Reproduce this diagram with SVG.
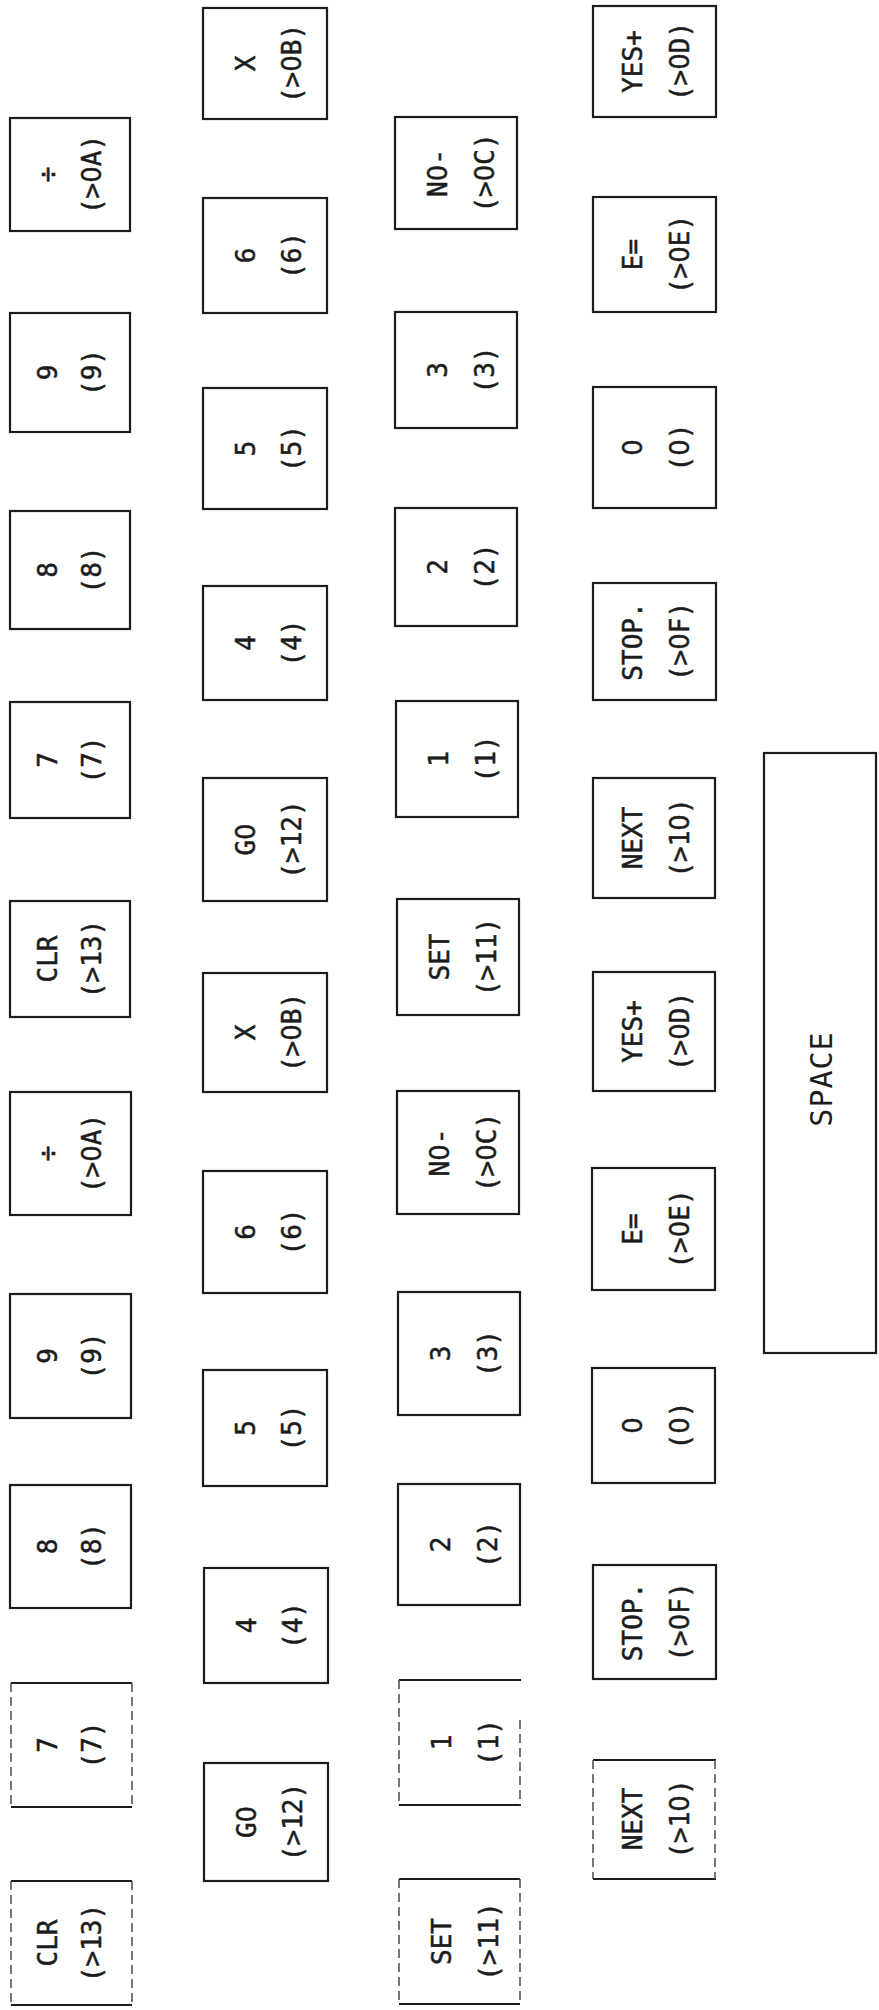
<svg xmlns="http://www.w3.org/2000/svg" width="879" height="2010" viewBox="0 0 879 2010">
<style>
.k{fill:none;stroke:#1c1c1c;stroke-width:2.2}
.s{fill:none;stroke:#1c1c1c;stroke-width:2.2}
.f{fill:none;stroke:#555;stroke-width:1.6;stroke-dasharray:9 5}
.t{font-family:"DejaVu Sans Mono",monospace;font-size:26px;fill:#1c1c1c;stroke:#1c1c1c;stroke-width:0.5;text-anchor:middle}
.z{font-family:"DejaVu Sans","Liberation Sans",sans-serif}
.sp{font-family:"DejaVu Sans Mono",monospace;font-size:30px;fill:#1c1c1c;text-anchor:middle;letter-spacing:1px}
</style>
<rect width="879" height="2010" fill="#fff"/>
<g id="connectors"/>
<!-- Column A -->
<g id="k-div-1"><rect class="k" x="10" y="118" width="120" height="113"/><text class="t" transform="translate(56.5,174.5) rotate(-90)">÷</text><text class="t" transform="translate(101,174.5) rotate(-90)">(&gt;<tspan class="z">0</tspan>A)</text></g>
<g id="k-9-1"><rect class="k" x="10" y="313" width="120" height="119"/><text class="t" transform="translate(56.5,372.5) rotate(-90)">9</text><text class="t" transform="translate(101,372.5) rotate(-90)">(9)</text></g>
<g id="k-8-1"><rect class="k" x="10" y="511" width="120" height="118"/><text class="t" transform="translate(56.5,570) rotate(-90)">8</text><text class="t" transform="translate(101,570) rotate(-90)">(8)</text></g>
<g id="k-7-1"><rect class="k" x="10" y="702" width="120" height="116"/><text class="t" transform="translate(56.5,760) rotate(-90)">7</text><text class="t" transform="translate(101,760) rotate(-90)">(7)</text></g>
<g id="k-clr-1"><rect class="k" x="10" y="901" width="120" height="116"/><text class="t" transform="translate(56.5,959) rotate(-90)">CLR</text><text class="t" transform="translate(101,959) rotate(-90)">(&gt;13)</text></g>
<g id="k-div-2"><rect class="k" x="10" y="1092" width="121" height="123"/><text class="t" transform="translate(56.5,1153.5) rotate(-90)">÷</text><text class="t" transform="translate(101,1153.5) rotate(-90)">(&gt;<tspan class="z">0</tspan>A)</text></g>
<g id="k-9-2"><rect class="k" x="10" y="1294" width="121" height="124"/><text class="t" transform="translate(56.5,1356) rotate(-90)">9</text><text class="t" transform="translate(101,1356) rotate(-90)">(9)</text></g>
<g id="k-8-2"><rect class="k" x="10" y="1485" width="121" height="123"/><text class="t" transform="translate(56.5,1546.5) rotate(-90)">8</text><text class="t" transform="translate(101,1546.5) rotate(-90)">(8)</text></g>
<g id="k-7-2"><path class="s" d="M11 1683H132M11 1807H132"/><path class="f" d="M11 1683V1807M132 1683V1807"/><text class="t" transform="translate(56.5,1745) rotate(-90)">7</text><text class="t" transform="translate(101,1745) rotate(-90)">(7)</text></g>
<g id="k-clr-2"><path class="s" d="M11 1881H132M11 2005H132"/><path class="f" d="M11 1881V2005M132 1881V2005"/><text class="t" transform="translate(56.5,1943) rotate(-90)">CLR</text><text class="t" transform="translate(101,1943) rotate(-90)">(&gt;13)</text></g>
<!-- Column B -->
<g id="k-x-1"><rect class="k" x="203" y="8" width="124" height="111"/><text class="t" transform="translate(254.5,63.5) rotate(-90)">X</text><text class="t" transform="translate(301,63.5) rotate(-90)">(&gt;<tspan class="z">0</tspan>B)</text></g>
<g id="k-6-1"><rect class="k" x="203" y="198" width="124" height="115"/><text class="t" transform="translate(254.5,255.5) rotate(-90)">6</text><text class="t" transform="translate(301,255.5) rotate(-90)">(6)</text></g>
<g id="k-5-1"><rect class="k" x="203" y="388" width="124" height="121"/><text class="t" transform="translate(254.5,448.5) rotate(-90)">5</text><text class="t" transform="translate(301,448.5) rotate(-90)">(5)</text></g>
<g id="k-4-1"><rect class="k" x="203" y="586" width="124" height="114"/><text class="t" transform="translate(254.5,643) rotate(-90)">4</text><text class="t" transform="translate(301,643) rotate(-90)">(4)</text></g>
<g id="k-go-1"><rect class="k" x="203" y="778" width="124" height="123"/><text class="t" transform="translate(254.5,839.5) rotate(-90)">G<tspan class="z">0</tspan></text><text class="t" transform="translate(301,839.5) rotate(-90)">(&gt;12)</text></g>
<g id="k-x-2"><rect class="k" x="203" y="973" width="124" height="119"/><text class="t" transform="translate(254.5,1032.5) rotate(-90)">X</text><text class="t" transform="translate(301,1032.5) rotate(-90)">(&gt;<tspan class="z">0</tspan>B)</text></g>
<g id="k-6-2"><rect class="k" x="203" y="1171" width="124" height="122"/><text class="t" transform="translate(254.5,1232) rotate(-90)">6</text><text class="t" transform="translate(301,1232) rotate(-90)">(6)</text></g>
<g id="k-5-2"><rect class="k" x="203" y="1370" width="124" height="116"/><text class="t" transform="translate(254.5,1428) rotate(-90)">5</text><text class="t" transform="translate(301,1428) rotate(-90)">(5)</text></g>
<g id="k-4-2"><rect class="k" x="204" y="1568" width="124" height="115"/><text class="t" transform="translate(255.5,1625.5) rotate(-90)">4</text><text class="t" transform="translate(302,1625.5) rotate(-90)">(4)</text></g>
<g id="k-go-2"><rect class="k" x="204" y="1763" width="124" height="118"/><text class="t" transform="translate(255.5,1822) rotate(-90)">G<tspan class="z">0</tspan></text><text class="t" transform="translate(302,1822) rotate(-90)">(&gt;12)</text></g>
<!-- Column C -->
<g id="k-no-1"><rect class="k" x="395" y="117" width="122" height="112"/><text class="t" transform="translate(446.5,173) rotate(-90)">N<tspan class="z">0</tspan>-</text><text class="t" transform="translate(494,173) rotate(-90)">(&gt;<tspan class="z">0</tspan>C)</text></g>
<g id="k-3-1"><rect class="k" x="395" y="312" width="122" height="116"/><text class="t" transform="translate(446.5,370) rotate(-90)">3</text><text class="t" transform="translate(494,370) rotate(-90)">(3)</text></g>
<g id="k-2-1"><rect class="k" x="395" y="508" width="122" height="118"/><text class="t" transform="translate(446.5,567) rotate(-90)">2</text><text class="t" transform="translate(494,567) rotate(-90)">(2)</text></g>
<g id="k-1-1"><rect class="k" x="396" y="701" width="122" height="116"/><text class="t" transform="translate(447.5,759) rotate(-90)">1</text><text class="t" transform="translate(495,759) rotate(-90)">(1)</text></g>
<g id="k-set-1"><rect class="k" x="397" y="899" width="122" height="116"/><text class="t" transform="translate(448.5,957) rotate(-90)">SET</text><text class="t" transform="translate(496,957) rotate(-90)">(&gt;11)</text></g>
<g id="k-no-2"><rect class="k" x="397" y="1091" width="122" height="123"/><text class="t" transform="translate(448.5,1152.5) rotate(-90)">N<tspan class="z">0</tspan>-</text><text class="t" transform="translate(496,1152.5) rotate(-90)">(&gt;<tspan class="z">0</tspan>C)</text></g>
<g id="k-3-2"><rect class="k" x="398" y="1292" width="122" height="123"/><text class="t" transform="translate(449.5,1353.5) rotate(-90)">3</text><text class="t" transform="translate(497,1353.5) rotate(-90)">(3)</text></g>
<g id="k-2-2"><rect class="k" x="398" y="1484" width="122" height="121"/><text class="t" transform="translate(449.5,1544.5) rotate(-90)">2</text><text class="t" transform="translate(497,1544.5) rotate(-90)">(2)</text></g>
<g id="k-1-2"><path class="s" d="M399 1680H521M399 1805H521"/><path class="f" d="M399 1680V1805M520 1720V1805"/><text class="t" transform="translate(450.5,1742.5) rotate(-90)">1</text><text class="t" transform="translate(498,1742.5) rotate(-90)">(1)</text></g>
<g id="k-set-2"><path class="s" d="M399 1879H520M399 2004H520"/><path class="f" d="M399 1879V2004M520 1879V2004"/><text class="t" transform="translate(450.5,1941.5) rotate(-90)">SET</text><text class="t" transform="translate(498,1941.5) rotate(-90)">(&gt;11)</text></g>
<!-- Column D -->
<g id="k-yes-1"><rect class="k" x="593" y="6" width="123" height="111"/><text class="t" transform="translate(641.5,61.5) rotate(-90)">YES+</text><text class="t" transform="translate(689,61.5) rotate(-90)">(&gt;<tspan class="z">0</tspan>D)</text></g>
<g id="k-e-1"><rect class="k" x="593" y="197" width="123" height="115"/><text class="t" transform="translate(641.5,254.5) rotate(-90)">E=</text><text class="t" transform="translate(689,254.5) rotate(-90)">(&gt;<tspan class="z">0</tspan>E)</text></g>
<g id="k-0-1"><rect class="k" x="593" y="387" width="123" height="121"/><text class="t" transform="translate(641.5,447.5) rotate(-90)"><tspan class="z">0</tspan></text><text class="t" transform="translate(689,447.5) rotate(-90)">(<tspan class="z">0</tspan>)</text></g>
<g id="k-stop-1"><rect class="k" x="593" y="583" width="123" height="117"/><text class="t" transform="translate(641.5,641.5) rotate(-90)">STOP.</text><text class="t" transform="translate(689,641.5) rotate(-90)">(&gt;<tspan class="z">0</tspan>F)</text></g>
<g id="k-next-1"><rect class="k" x="593" y="778" width="122" height="120"/><text class="t" transform="translate(641.5,838) rotate(-90)">NEXT</text><text class="t" transform="translate(689,838) rotate(-90)">(&gt;1<tspan class="z">0</tspan>)</text></g>
<g id="k-yes-2"><rect class="k" x="593" y="972" width="122" height="119"/><text class="t" transform="translate(641.5,1031.5) rotate(-90)">YES+</text><text class="t" transform="translate(689,1031.5) rotate(-90)">(&gt;<tspan class="z">0</tspan>D)</text></g>
<g id="k-e-2"><rect class="k" x="592" y="1168" width="123" height="122"/><text class="t" transform="translate(641.5,1229) rotate(-90)">E=</text><text class="t" transform="translate(689,1229) rotate(-90)">(&gt;<tspan class="z">0</tspan>E)</text></g>
<g id="k-0-2"><rect class="k" x="592" y="1368" width="123" height="115"/><text class="t" transform="translate(641.5,1425.5) rotate(-90)"><tspan class="z">0</tspan></text><text class="t" transform="translate(689,1425.5) rotate(-90)">(<tspan class="z">0</tspan>)</text></g>
<g id="k-stop-2"><rect class="k" x="593" y="1565" width="123" height="114"/><text class="t" transform="translate(641.5,1622) rotate(-90)">STOP.</text><text class="t" transform="translate(689,1622) rotate(-90)">(&gt;<tspan class="z">0</tspan>F)</text></g>
<g id="k-next-2"><path class="s" d="M593 1760H716M593 1879H716"/><path class="f" d="M593 1760V1879M715 1760V1879"/><text class="t" transform="translate(641.5,1819) rotate(-90)">NEXT</text><text class="t" transform="translate(689,1819) rotate(-90)">(&gt;1<tspan class="z">0</tspan>)</text></g>
<!-- Space bar -->
<g id="k-space"><rect class="k" x="764" y="753" width="112" height="600"/><text class="sp" transform="translate(832,1079) rotate(-90)">SPACE</text></g>
</svg>
